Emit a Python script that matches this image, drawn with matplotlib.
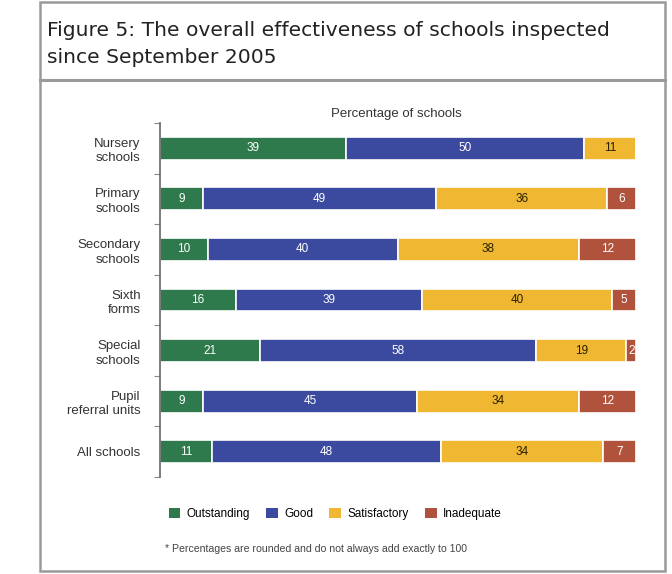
import matplotlib
matplotlib.use("Agg")
import matplotlib.pyplot as plt
from matplotlib.patches import Rectangle
from matplotlib.lines import Line2D
import numpy as np

plt.rcParams['font.family'] = ['Liberation Sans', 'DejaVu Sans']

categories = ["Nursery\nschools", "Primary\nschools", "Secondary\nschools",
              "Sixth\nforms", "Special\nschools", "Pupil\nreferral units",
              "All schools"]
outstanding = [39, 9, 10, 16, 21, 9, 11]
good = [50, 49, 40, 39, 58, 45, 48]
satisfactory = [11, 36, 38, 40, 19, 34, 34]
inadequate = [0, 6, 12, 5, 2, 12, 7]

series_names = ["Outstanding", "Good", "Satisfactory", "Inadequate"]
series_colors = ["#2e7a4c", "#3b4a9e", "#efb732", "#b1523c"]
label_colors = ["white", "white", "#2a2000", "white"]

title = "Figure 5: The overall effectiveness of schools inspected\nsince September 2005"
axis_title = "Percentage of schools"
footnote = "* Percentages are rounded and do not always add exactly to 100"

fig = plt.figure(figsize=(6.72, 5.74), dpi=100)

# frame around the whole figure and the rule under the title
W, H = 672, 574
def fx(px):
    return px / W
def fy(py):
    return 1 - py / H

fig.add_artist(Rectangle((fx(40), fy(571)), fx(665) - fx(40), fy(2) - fy(571),
                         transform=fig.transFigure, fill=False,
                         edgecolor="#9a9a9a", linewidth=1.8))
fig.add_artist(Line2D([fx(40), fx(665)], [fy(80), fy(80)],
                      transform=fig.transFigure, color="#9a9a9a", linewidth=2.2))

fig.text(fx(47), fy(44), title, fontsize=14.6, color="#222222",
         family="DejaVu Sans", ha="left", va="center", linespacing=1.55)

ax = fig.add_axes([fx(160), fy(477), fx(636) - fx(160), fy(123) - fy(477)])

values = [outstanding, good, satisfactory, inadequate]
y = np.arange(len(categories))
left = np.zeros(len(categories))
for vals, name, col, lc in zip(values, series_names, series_colors, label_colors):
    vals = np.array(vals, dtype=float)
    ax.barh(y, vals, left=left, height=0.45, color=col, edgecolor="white",
            linewidth=1.2, label=name)
    for yi, (l, v) in enumerate(zip(left, vals)):
        if v > 0:
            ax.text(l + v / 2, yi, f"{int(v)}", ha="center", va="center",
                    fontsize=8.5, color=lc)
    left += vals

ax.set_xlim(0, 100)
ax.set_ylim(len(categories) - 0.5, -0.5)
ax.set_yticks(y)
ax.set_yticklabels(categories, fontsize=9.5, color="#333333", ha="right",
                   linespacing=1.3)
ax.set_yticks(np.arange(len(categories) + 1) - 0.5, minor=True)
ax.tick_params(axis="y", which="major", length=0, pad=14)
ax.tick_params(axis="y", which="minor", length=4, color="#888888", width=0.8)
ax.set_xticks([])
for side in ["top", "right", "bottom"]:
    ax.spines[side].set_visible(False)
ax.spines["left"].set_color("#666666")
ax.spines["left"].set_linewidth(1.2)

fig.text(fx(396), fy(114), axis_title, fontsize=9.5, color="#333333",
         ha="center", va="center")

handles = [Rectangle((0, 0), 1, 1, facecolor=c, edgecolor="none")
           for c in series_colors]
fig.legend(handles, series_names, loc="center left",
           bbox_to_anchor=(fx(158), fy(514)), ncol=4, frameon=False,
           fontsize=8.5, handlelength=1.0, handleheight=1.0,
           columnspacing=1.4, handletextpad=0.5)

fig.text(fx(165), fy(549), footnote, fontsize=7.6, color="#444444",
         ha="left", va="center")

fig.savefig("out.png", dpi=100)
